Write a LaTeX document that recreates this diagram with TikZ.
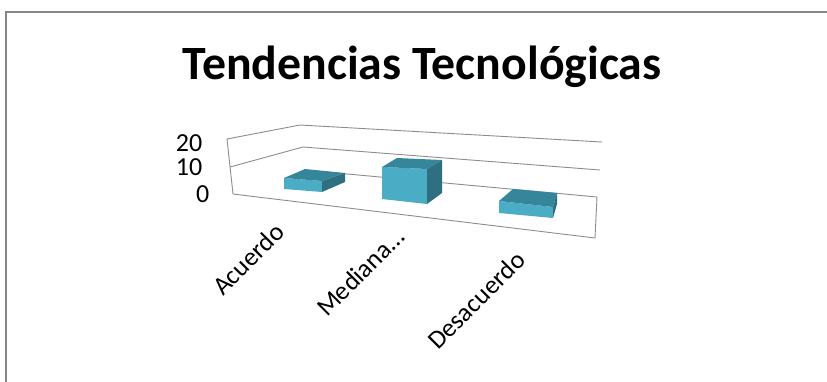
\documentclass[tikz,border=0pt]{standalone}
\usepackage{fontspec}
\setmainfont{Carlito}
\definecolor{frame}{RGB}{134,134,134}
\definecolor{grid}{RGB}{140,140,140}
\definecolor{barfront}{RGB}{75,172,198}
\definecolor{bartop}{RGB}{54,134,155}
\definecolor{barside}{RGB}{46,112,130}
\tikzset{
  gridline/.style={draw=grid, line width=0.9pt},
  axislbl/.style={inner sep=0pt, font=\fontsize{26}{30}\selectfont},
  catlbl/.style={inner sep=0pt, rotate=45, anchor=base east, font=\fontsize{26}{30}\selectfont},
  front/.style={fill=barfront},
  topf/.style={fill=bartop},
  sidef/.style={fill=barside}
}
\begin{document}
\begin{tikzpicture}[x=1pt,y=-1pt]
\useasboundingbox (0,0) rectangle (827,381);
% chart border
\draw[frame, line width=2pt] (6,385) -- (6,12) -- (830,12);
% title
\node[inner sep=0pt, anchor=base, font=\fontsize{47.8}{52}\selectfont\bfseries] (title) at (422,79) {Tendencias Tecnológicas};
% walls and floor
\coordinate (fl1) at (227,139);
\coordinate (fl2) at (230,167);
\coordinate (fl3) at (233,194);
\coordinate (bl1) at (300,125);
\coordinate (bl2) at (303,147);
\coordinate (bl3) at (304,170);
\coordinate (br1) at (602,142);
\coordinate (br2) at (600,170);
\coordinate (br3) at (597,197);
\coordinate (fr3) at (595,238);
\draw[gridline] (fl3) -- (fl1) -- (bl1) -- (br1);
\draw[gridline] (fl2) -- (bl2) -- (br2);
\draw[gridline] (bl3) -- (br3) -- (fr3) -- (fl3);
% axis labels
\node[axislbl, anchor=base east] (v20) at (202.5,151) {20};
\node[axislbl, anchor=base east] (v10) at (202.5,175) {10};
\node[axislbl, anchor=base east] (v0) at (209.5,202) {0};
% bar Acuerdo
\fill[front] (284,178) -- (322,181) -- (322,192) -- (284,189) -- cycle;
\fill[topf] (284,178) -- (322,181) -- (345,173) -- (305,169) -- cycle;
\fill[sidef] (322,181) -- (345,173) -- (345,182) -- (322,192) -- cycle;
% bar Mediana
\fill[front] (382,167) -- (427,169) -- (427,204) -- (382,199) -- cycle;
\fill[topf] (382,167) -- (427,169) -- (442,160) -- (397,158) -- cycle;
\fill[sidef] (427,169) -- (442,160) -- (442,193) -- (427,204) -- cycle;
% bar Desacuerdo
\fill[front] (499,201) -- (553,207) -- (553,218) -- (499,213) -- cycle;
\fill[topf] (499,201) -- (553,207) -- (557,193) -- (513,189) -- cycle;
\fill[sidef] (553,207) -- (557,193) -- (557,204) -- (553,218) -- cycle;
% category labels
\node[catlbl] (c1) at (286,234) {Acuerdo};
\node[catlbl] (c2) at (406,239) {Mediana…};
\node[catlbl] (c3) at (527,262) {Desacuerdo};
\end{tikzpicture}
\end{document}
